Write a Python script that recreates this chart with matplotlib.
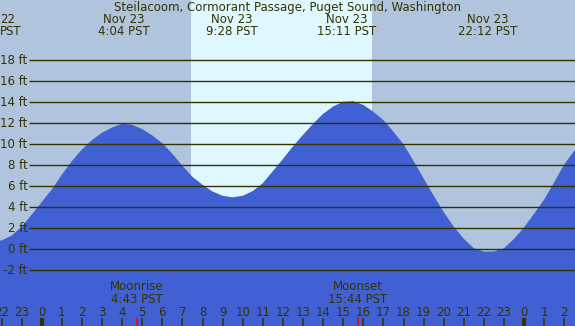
import matplotlib
matplotlib.use("Agg")
import matplotlib.pyplot as plt
from matplotlib.transforms import blended_transform_factory

# tide height (ft), every half hour
hours = [-2.5, -2.0, -1.5, -1.0, -0.5, 0.0, 0.5, 1.0, 1.5, 2.0, 2.5, 3.0, 3.5, 4.0,
         4.5, 5.0, 5.5, 6.0, 6.5, 7.0, 7.5, 8.0, 8.5, 9.0, 9.5, 10.0, 10.5, 11.0,
         11.5, 12.0, 12.5, 13.0, 13.5, 14.0, 14.5, 15.0, 15.5, 16.0, 16.5, 17.0,
         17.5, 18.0, 18.5, 19.0, 19.5, 20.0, 20.5, 21.0, 21.5, 22.0, 22.5, 23.0,
         23.5, 24.0, 24.5, 25.0, 25.5, 26.0, 26.5, 27.0]
heights = [0.7, 0.85, 1.3, 2.15, 3.3, 4.5, 5.7, 7.1, 8.4, 9.5, 10.4, 11.1, 11.6, 11.95,
           11.85, 11.45, 10.85, 10.1, 9.1, 7.95, 6.9, 6.15, 5.5, 5.1, 4.95, 5.1, 5.55, 6.3,
           7.45, 8.6, 9.8, 10.9, 11.95, 12.9, 13.6, 14.05, 14.1, 13.75, 13.1, 12.3,
           11.2, 10.0, 8.4, 6.75, 5.1, 3.55, 2.15, 1.0, 0.1, -0.22, -0.2, 0.1,
           1.0, 2.1, 3.4, 4.75, 6.4, 8.1, 9.4, 10.5]

# tide extremes shown at the top
event_hours = [4.067, 9.467, 15.183, 22.2]
event_days = ["Nov 23", "Nov 23", "Nov 23", "Nov 23"]
event_times = ["4:04 PST", "9:28 PST", "15:11 PST", "22:12 PST"]

sunrise, sunset = 7.43, 16.43
moon_hours = [4.717, 15.733]
moon_names = ["Moonrise", "Moonset"]
moon_times = ["4:43 PST", "15:44 PST"]

ft_levels = list(range(-2, 20, 2))
hour_ticks = list(range(-2, 27))

title = "Steilacoom, Cormorant Passage, Puget Sound, Washington"

BG = "#B0C4DE"
DAY = "#DFF7FF"
WATER = "#4160D4"
INK = "#333300"
FS = 8.5

W, H = 575, 326
fig = plt.figure(figsize=(W / 100, H / 100), dpi=100)
fig.patch.set_facecolor(BG)
ax = fig.add_axes([0, 0, 1, 1])
ax.axis("off")
ax.set_xlim(-2.075, 26.53)
ax.set_ylim(-7.30, 23.74)

ax.axvspan(sunrise, sunset, color=DAY, zorder=0, lw=0)
ax.fill_between(hours, heights, -7.30, color=WATER, lw=0, zorder=1)

# horizontal grid lines and labels
x_line = -0.63
ax.hlines(ft_levels, x_line, 26.53, color=INK, lw=1.0, zorder=2)
for lv in ft_levels:
    ax.text(x_line - 0.08, lv, f"{lv} ft", ha="right", va="center",
            fontsize=FS, color=INK, zorder=3)

# x in hours, y in figure fraction
tr = blended_transform_factory(ax.transData, fig.transFigure)

def py(p):
    return 1 - p / H

ax.text(0.5, py(8), title, transform=fig.transFigure, ha="center", va="center",
        fontsize=FS, color=INK)

for h, d, t in zip(event_hours, event_days, event_times):
    ax.text(h, py(19.5), d, transform=tr, ha="center", va="center", fontsize=FS, color=INK)
    ax.text(h, py(31.5), t, transform=tr, ha="center", va="center", fontsize=FS, color=INK)
# previous low, clipped at the left edge
ax.text(0, py(19.5), "22", transform=fig.transFigure, ha="left", va="center", fontsize=FS, color=INK)
ax.text(0, py(31.5), "PST", transform=fig.transFigure, ha="left", va="center", fontsize=FS, color=INK)

for h, n, t in zip(moon_hours, moon_names, moon_times):
    ax.text(h, py(287), n, transform=tr, ha="center", va="center", fontsize=FS, color=INK)
    ax.text(h, py(299.5), t, transform=tr, ha="center", va="center", fontsize=FS, color=INK)
    ax.plot([h, h], [py(318), py(326)], transform=tr, color="red", lw=1.2, zorder=4)

for h in hour_ticks:
    hh = h % 24
    ax.text(h, py(312), str(hh), transform=tr, ha="center", va="center", fontsize=FS, color=INK)
    ax.plot([h, h], [py(318), py(326)], transform=tr, color=INK,
            lw=3 if hh == 0 else 1.1, zorder=4, solid_capstyle="butt")

fig.savefig("out.png", dpi=100, facecolor=BG)
